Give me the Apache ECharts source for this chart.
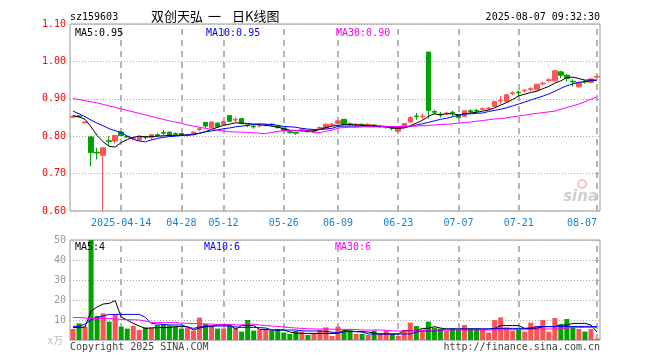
<!DOCTYPE html>
<html><head><meta charset="utf-8">
<script src="https://cdn.jsdelivr.net/npm/echarts@6/dist/echarts.min.js"></script>
<style>html,body{margin:0;padding:0;background:#fff}#c{width:660px;height:360px}</style>
</head><body><div id="c"></div>
<script>
const dates = ['2025-04-01','2025-04-02','2025-04-03','2025-04-07','2025-04-08','2025-04-09','2025-04-10','2025-04-11','2025-04-14','2025-04-15',
'2025-04-16','2025-04-17','2025-04-18','2025-04-21','2025-04-22','2025-04-23','2025-04-24','2025-04-25','2025-04-28','2025-04-29',
'2025-04-30','2025-05-06','2025-05-07','2025-05-08','2025-05-09','2025-05-12','2025-05-13','2025-05-14','2025-05-15','2025-05-16',
'2025-05-19','2025-05-20','2025-05-21','2025-05-22','2025-05-23','2025-05-26','2025-05-27','2025-05-28','2025-05-29','2025-05-30',
'2025-06-03','2025-06-04','2025-06-05','2025-06-06','2025-06-09','2025-06-10','2025-06-11','2025-06-12','2025-06-13','2025-06-16',
'2025-06-17','2025-06-18','2025-06-19','2025-06-20','2025-06-23','2025-06-24','2025-06-25','2025-06-26','2025-06-27','2025-06-30',
'2025-07-01','2025-07-02','2025-07-03','2025-07-04','2025-07-07','2025-07-08','2025-07-09','2025-07-10','2025-07-11','2025-07-14',
'2025-07-15','2025-07-16','2025-07-17','2025-07-18','2025-07-21','2025-07-22','2025-07-23','2025-07-24','2025-07-25','2025-07-28',
'2025-07-29','2025-07-30','2025-07-31','2025-08-01','2025-08-04','2025-08-05','2025-08-06','2025-08-07'];

const tickDates = ['2025-04-14','2025-04-28','2025-05-12','2025-05-26','2025-06-09','2025-06-23','2025-07-07','2025-07-21','2025-08-07'];
const tickLabels = ['2025-04-14','04-28','05-12','05-26','06-09','06-23','07-07','07-21','08-07'];

const open = [.851,.854,.836,.798,.757,.749,.788,.787,.811,.800,
.794,.790,.799,.796,.804,.810,.811,.807,.807,.802,
.804,.818,.837,.822,.835,.831,.855,.843,.847,.830,
.827,.827,.829,.832,.826,.822,.812,.810,.817,.816,
.813,.821,.822,.830,.834,.845,.833,.830,.832,.830,
.830,.825,.824,.823,.813,.825,.838,.854,.852,1.025,
.866,.859,.860,.864,.856,.853,.868,.869,.872,.873,
.880,.894,.893,.914,.918,.921,.925,.924,.940,.949,
.948,.972,.963,.947,.932,.947,.944,.958];
const close = [.853,.852,.838,.756,.755,.769,.786,.802,.802,.798,
.796,.800,.797,.804,.802,.808,.802,.805,.802,.804,
.811,.820,.827,.838,.825,.839,.840,.845,.834,.828,
.825,.829,.831,.830,.824,.815,.810,.808,.819,.812,
.815,.823,.832,.832,.841,.831,.831,.832,.830,.832,
.828,.827,.826,.821,.822,.834,.850,.852,.854,.869,
.864,.857,.862,.862,.850,.868,.866,.867,.874,.875,
.893,.896,.911,.916,.916,.923,.927,.939,.942,.951,
.975,.963,.954,.945,.944,.945,.953,.960];
const low = [.849,.850,.834,.719,.738,.600,.775,.781,.800,.795,
.788,.788,.791,.791,.797,.802,.801,.801,.801,.797,
.803,.813,.822,.820,.822,.829,.838,.838,.832,.824,
.820,.823,.826,.826,.820,.813,.806,.804,.812,.810,
.810,.817,.820,.826,.832,.829,.826,.826,.827,.826,
.824,.822,.820,.816,.810,.822,.835,.844,.844,.847,
.858,.850,.856,.853,.848,.851,.860,.862,.869,.870,
.878,.885,.890,.910,.908,.917,.920,.922,.935,.944,
.946,.955,.946,.933,.930,.940,.942,.955];
const high = [.856,.856,.840,.800,.769,.771,.800,.803,.811,.802,
.797,.801,.800,.806,.808,.817,.812,.810,.808,.805,
.812,.824,.838,.840,.837,.842,.856,.850,.848,.833,
.830,.832,.834,.835,.830,.823,.815,.812,.821,.817,
.817,.826,.834,.836,.843,.846,.837,.835,.834,.835,
.832,.830,.828,.826,.823,.835,.853,.862,.861,1.025,
.871,.865,.866,.868,.858,.869,.872,.873,.877,.878,
.894,.907,.912,.920,.922,.926,.931,.940,.946,.955,
.977,.975,.966,.952,.945,.950,.955,.962];

const ma5 = [.855,.852,.845,.825,.802,.785,.773,.771,.783,.791,
.797,.800,.798,.799,.800,.801,.802,.802,.803,.803,
.804,.808,.812,.818,.824,.829,.832,.836,.835,.834,
.832,.831,.829,.827,.824,.820,.816,.815,.814,.813,
.814,.818,.823,.827,.829,.831,.831,.830,.829,.828,
.827,.826,.825,.822,.821,.822,.828,.835,.842,.853,
.860,.857,.860,.860,.857,.860,.862,.864,.867,.870,
.876,.883,.890,.898,.908,.912,.917,.920,.927,.933,
.942,.948,.957,.958,.954,.950,.950,.950];
const ma10 = [.867,.860,.852,.843,.835,.828,.820,.815,.810,.800,
.792,.787,.785,.790,.794,.797,.799,.800,.802,.803,
.805,.808,.812,.814,.817,.820,.822,.825,.827,.829,
.832,.833,.832,.831,.829,.826,.825,.824,.821,.819,
.818,.818,.819,.821,.826,.827,.827,.827,.827,.827,
.827,.827,.826,.825,.824,.824,.826,.830,.833,.837,
.841,.845,.848,.852,.856,.859,.860,.861,.862,.866,
.869,.872,.876,.881,.886,.891,.897,.902,.907,.913,
.920,.928,.935,.940,.944,.946,.948,.950];
const ma30 = [.901,.898,.895,.892,.889,.885,.881,.877,.873,.869,
.865,.861,.857,.853,.849,.845,.841,.838,.834,.830,
.827,.824,.821,.818,.816,.814,.812,.811,.811,.810,
.809,.808,.807,.810,.813,.815,.815,.815,.815,.815,
.809,.810,.813,.816,.822,.823,.824,.824,.825,.825,
.825,.825,.826,.826,.826,.826,.827,.827,.828,.829,
.830,.831,.832,.833,.835,.836,.838,.840,.842,.844,
.846,.847,.849,.852,.854,.856,.859,.861,.863,.865,
.867,.872,.877,.881,.886,.892,.899,.905];

const volume = [5.5,8.3,6.7,50,12,13.3,9.2,13,6.7,5.7,
7,5,6.3,6.3,7.5,8,7.3,6.7,5.7,6.3,
4.7,11.2,8,7.2,5.7,5.7,7.2,5.8,4.2,10,
4.7,5.3,5.3,4.7,5.5,3.7,3,4.5,4.2,2.5,
3.3,5,6.3,2,6.7,4.7,4.7,3,3,2.5,
4.7,3,4.7,3,2,5,8.7,7,5,9.2,
6.2,5.7,4.7,5.8,5,7.5,5.8,5.8,5.3,3.7,
10,11.3,6.3,4.7,5.3,4.2,8.7,7,10,4.2,
11,7.8,10.5,7,5.5,4.2,5.5,0.7];
const vma5 = [6.2,6.2,6.5,14.5,16.5,18.0,18.3,19.7,11.5,10.0,
8.3,7.0,5.8,6.0,6.2,6.2,6.2,6.7,6.7,6.7,
5.0,6.0,6.7,6.7,7.5,7.5,7.5,5.5,7.2,7.2,
7.2,5.3,5.3,5.0,5.0,5.0,4.0,3.5,3.3,3.3,
3.3,3.3,3.3,3.3,3.3,4.7,4.5,4.2,4.2,4.0,
3.5,3.0,3.0,3.0,3.0,4.7,4.7,4.7,5.8,5.8,
6.7,6.0,5.5,5.5,5.5,5.5,5.5,5.5,5.5,5.5,
5.8,7.2,7.2,7.2,7.2,5.8,5.8,5.8,6.7,6.7,
6.7,7.5,7.5,8.3,8.3,8.3,7.5,4.0];
const vma10 = [6.8,6.8,8.0,10.0,11.3,12.0,12.8,12.8,12.8,12.8,
12.8,12.8,11.3,8.3,8.0,7.8,7.5,7.5,7.5,6.5,
5.8,6.5,7.0,7.0,7.0,7.0,7.0,6.5,6.3,6.3,
6.3,6.2,6.0,5.0,5.0,5.0,5.0,5.0,4.6,4.5,
4.5,4.5,4.3,3.9,3.7,4.2,4.2,4.2,4.0,3.0,
3.0,3.0,3.0,3.0,3.0,3.0,3.0,4.0,4.5,4.5,
4.5,4.8,5.5,5.5,5.5,5.5,5.5,5.5,5.5,5.5,
5.7,5.8,5.8,5.8,5.8,5.8,6.0,6.7,6.7,6.7,
6.7,6.7,6.8,6.8,6.8,6.8,6.8,6.7];
const vma30 = [11.3,11.2,11.0,10.8,10.8,10.8,10.8,10.5,10.3,10.2,
10.1,10.0,9.5,8.8,8.8,8.8,8.8,8.8,8.4,8.3,
8.3,8.2,8.0,7.9,7.8,7.8,7.8,7.6,7.5,7.9,
7.9,7.5,7.2,7.0,6.8,6.5,6.2,6.0,5.8,5.6,
5.5,5.5,5.5,5.4,5.3,5.3,5.3,5.2,5.0,5.0,
5.0,5.0,4.8,4.6,4.5,4.5,4.6,4.8,5.0,5.0,
5.0,5.0,5.0,5.0,5.0,5.0,5.0,5.0,5.0,5.0,
5.0,5.1,5.3,5.3,5.2,5.1,5.3,5.5,5.5,5.5,
5.5,5.6,6.0,6.2,6.2,6.3,6.3,6.3];

const RED = '#ff5252', GREEN = '#00a300';
const mono = "'DejaVu Sans Mono', monospace";
const cjk = "'Noto Sans CJK SC', sans-serif";

const candleData = dates.map((d, i) => [open[i], close[i], low[i], high[i]]);
const volData = volume.map((v, i) => ({ value: v, itemStyle: { color: close[i] >= open[i] ? RED : GREEN } }));
const vLines = {
  silent: true, z: 0, symbol: ['none', 'none'], label: { show: false },
  lineStyle: { color: '#b4b4b4', type: [6, 5], width: 2 },
  emphasis: { disabled: true },
  data: tickDates.map(d => ({ xAxis: d }))
};

const chart = echarts.init(document.getElementById('c'));
function txt(x, y, s, color, font, align) {
  return { type: 'text', x: x, y: y, silent: true, z: 100,
    style: { text: s, fill: color, font: font, align: align || 'left', verticalAlign: 'middle' } };
}
chart.setOption({
  animation: false,
  backgroundColor: '#fff',
  grid: [
    { left: 70, top: 24, width: 530, height: 187, show: true, borderColor: '#999', borderWidth: 1 },
    { left: 70, top: 240, width: 530, height: 100, show: true, borderColor: '#999', borderWidth: 1 }
  ],
  xAxis: [
    { type: 'category', gridIndex: 0, data: dates, boundaryGap: true,
      axisLine: { show: false }, axisTick: { show: false }, splitLine: { show: false },
      axisLabel: { interval: (i, v) => tickDates.indexOf(v) >= 0,
        formatter: v => { const k = tickDates.indexOf(v); return k < 0 ? '' : tickLabels[k]; },
        color: '#1a7fd0', fontFamily: mono, fontSize: 10, margin: 7, alignMaxLabel: 'right' } },
    { type: 'category', gridIndex: 1, data: dates, boundaryGap: true,
      axisLine: { show: false }, axisTick: { show: false }, splitLine: { show: false }, axisLabel: { show: false } }
  ],
  yAxis: [
    { type: 'value', gridIndex: 0, min: 0.6, max: 1.1, interval: 0.1,
      axisLine: { show: false }, axisTick: { show: false },
      axisLabel: { color: '#ff0000', fontFamily: mono, fontSize: 10, margin: 4, formatter: v => v.toFixed(2) },
      splitLine: { lineStyle: { color: '#aaa', type: [1, 2], width: 1 } } },
    { type: 'value', gridIndex: 1, min: 0, max: 50, interval: 10,
      axisLine: { show: false }, axisTick: { show: false },
      axisLabel: { color: '#999', fontFamily: mono, fontSize: 10, margin: 4, formatter: v => v === 0 ? '' : String(v) },
      splitLine: { lineStyle: { color: '#aaa', type: [1, 2], width: 1 } } }
  ],
  series: [
    { type: 'candlestick', xAxisIndex: 0, yAxisIndex: 0, data: candleData, barWidth: 5, z: 3,
      itemStyle: { color: RED, color0: GREEN, borderColor: RED, borderColor0: GREEN, borderWidth: 1 },
      markLine: vLines },
    { type: 'line', xAxisIndex: 0, yAxisIndex: 0, data: ma5, showSymbol: false, z: 4, lineStyle: { color: '#000', width: 1 }, silent: true },
    { type: 'line', xAxisIndex: 0, yAxisIndex: 0, data: ma10, showSymbol: false, z: 4, lineStyle: { color: '#0000ff', width: 1 }, silent: true },
    { type: 'line', xAxisIndex: 0, yAxisIndex: 0, data: ma30, showSymbol: false, z: 4, lineStyle: { color: '#ff00ff', width: 1 }, silent: true },
    { type: 'bar', xAxisIndex: 1, yAxisIndex: 1, data: volData, barWidth: 5, z: 3, markLine: vLines },
    { type: 'line', xAxisIndex: 1, yAxisIndex: 1, data: vma5, showSymbol: false, z: 4, lineStyle: { color: '#000', width: 1 }, silent: true },
    { type: 'line', xAxisIndex: 1, yAxisIndex: 1, data: vma10, showSymbol: false, z: 4, lineStyle: { color: '#0000ff', width: 1 }, silent: true },
    { type: 'line', xAxisIndex: 1, yAxisIndex: 1, data: vma30, showSymbol: false, z: 4, lineStyle: { color: '#ff00ff', width: 1 }, silent: true }
  ],
  graphic: [
    txt(70, 17, 'sz159603', '#000', '10px ' + mono),
    txt(151, 16, '双创天弘', '#000', '13px ' + cjk),
    txt(208, 16, '一', '#000', '13px ' + cjk),
    txt(232, 16, '日K线图', '#000', '13px ' + cjk),
    txt(600, 17, '2025-08-07 09:32:30', '#000', '10px ' + mono, 'right'),
    txt(75, 33, 'MA5:0.95', '#000', '10px ' + mono),
    txt(206, 33, 'MA10:0.95', '#0000ff', '10px ' + mono),
    txt(336, 33, 'MA30:0.90', '#ff00ff', '10px ' + mono),
    txt(75, 247, 'MA5:4', '#000', '10px ' + mono),
    txt(204, 247, 'MA10:6', '#0000ff', '10px ' + mono),
    txt(335, 247, 'MA30:6', '#ff00ff', '10px ' + mono),
    txt(48, 340, 'x万', '#bbb', '10px ' + cjk),
    txt(70, 347, 'Copyright 2025 SINA.COM', '#444', '10px ' + mono),
    txt(600, 347, 'http://finance.sina.com.cn', '#444', '10px ' + mono, 'right'),
    txt(598, 197, 'sina', '#cfcfcf', 'italic bold 15px ' + "'DejaVu Sans', sans-serif", 'right'),
    { type: 'circle', shape: { cx: 582, cy: 184, r: 4 }, style: { fill: 'none', stroke: '#f3c7c7', lineWidth: 2 }, silent: true, z: 100 }
  ]
});
</script>
</body></html>
